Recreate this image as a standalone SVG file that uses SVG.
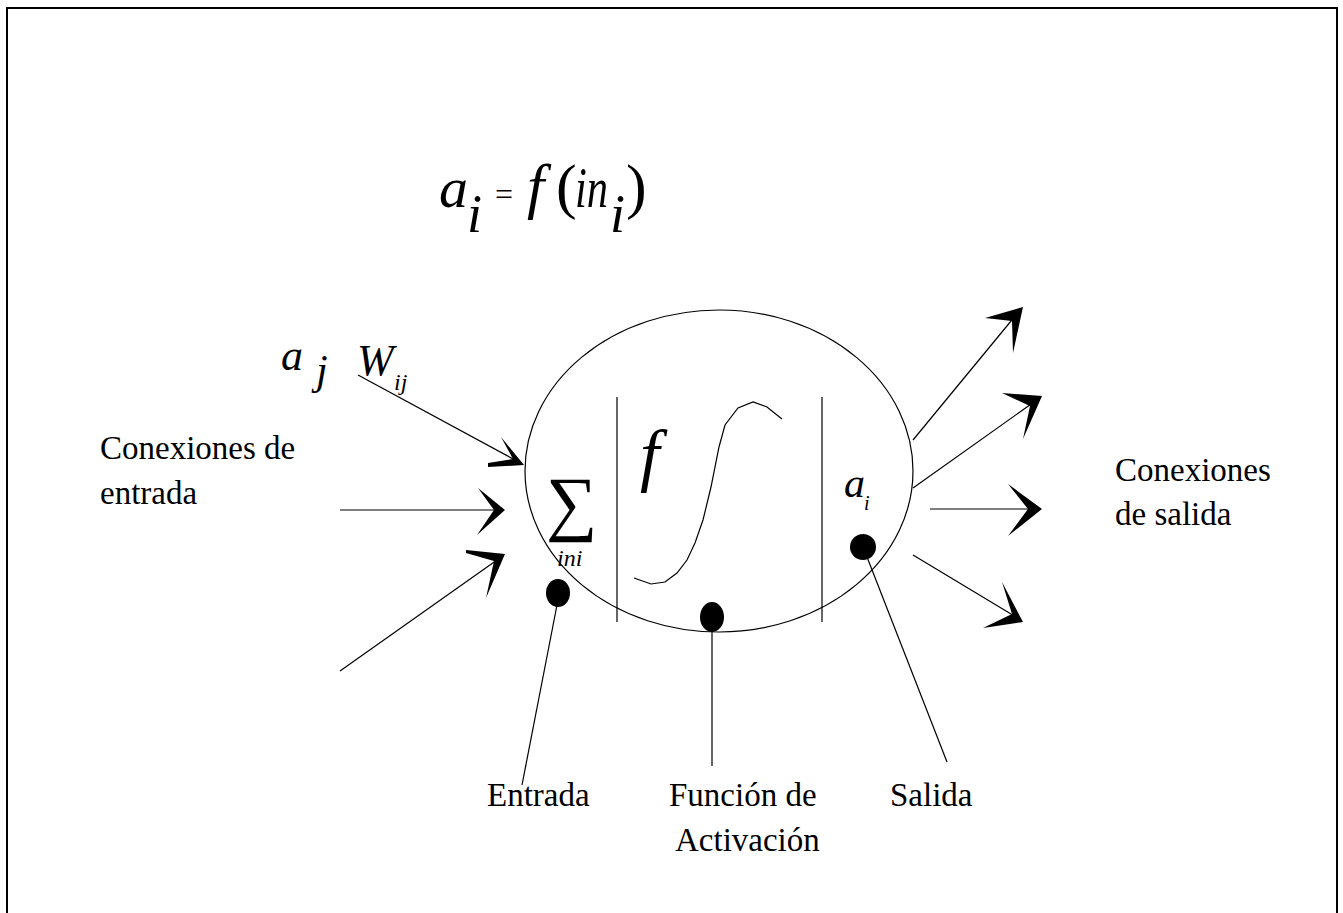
<svg xmlns="http://www.w3.org/2000/svg" width="1343" height="913" viewBox="0 0 1343 913">
<rect width="1343" height="913" fill="#fff"/>
<path d="M7,913 L7,8 L1337,8 L1337,913" fill="none" stroke="#000" stroke-width="2"/>
<g id="formula" fill="#000">
<text x="439" y="207" font-size="58" font-family="Liberation Serif" font-style="italic">a</text>
<text x="467" y="232" font-size="54" font-family="Liberation Serif" font-style="italic">i</text>
<text x="495" y="205" font-size="32" font-family="Liberation Serif">=</text>
<text x="527" y="207" font-size="62" font-family="Liberation Serif" font-style="italic">f</text>
<text x="556" y="207" font-size="62" font-family="Liberation Serif">(</text>
<text x="575" y="207" font-size="56" font-family="Liberation Serif" font-style="italic" textLength="33" lengthAdjust="spacingAndGlyphs">in</text>
<text x="610" y="232" font-size="54" font-family="Liberation Serif" font-style="italic">i</text>
<text x="626" y="207" font-size="62" font-family="Liberation Serif">)</text>
</g>
<g id="neuron" fill="none" stroke="#000" stroke-width="1.2">
<ellipse cx="719" cy="471" rx="194" ry="161"/>
<line x1="617" y1="397" x2="617" y2="622"/>
<line x1="822" y1="397" x2="822" y2="622"/>
<polyline points="634,578 651,584 665,582 677,573 687,560 695,543 703,520 711,487 719,447 725,425 738,408 753,402 767,407 782,419"/>
<text x="546" y="527" font-size="72" font-family="Liberation Serif" fill="#000" stroke="none">∑</text>
<text x="557" y="566" font-size="24" font-family="Liberation Serif" font-style="italic" fill="#000" stroke="none">ini</text>
<text x="640" y="478" font-size="70" font-family="Liberation Serif" font-style="italic" fill="#000" stroke="none">f</text>
<text x="844" y="497" font-size="42" font-family="Liberation Serif" font-style="italic" fill="#000" stroke="none">a</text>
<text x="864" y="510" font-size="20" font-family="Liberation Serif" font-style="italic" fill="#000" stroke="none">i</text>
</g>
<g id="labels" fill="#000">
<text x="281" y="370" font-size="44" font-family="Liberation Serif" font-style="italic">a</text>
<text x="316" y="384" font-size="42" font-family="Liberation Serif" font-style="italic">j</text>
<text x="357" y="375" font-size="44" font-family="Liberation Serif" font-style="italic">W</text>
<text x="394" y="390" font-size="24" font-family="Liberation Serif" font-style="italic">ij</text>
<text x="100" y="459" font-size="33" font-family="Liberation Serif">Conexiones de</text>
<text x="100" y="504" font-size="33" font-family="Liberation Serif">entrada</text>
<text x="1115" y="481" font-size="33" font-family="Liberation Serif">Conexiones</text>
<text x="1115" y="525" font-size="33" font-family="Liberation Serif">de salida</text>
</g>
<g id="entrada" fill="#000">
<ellipse cx="558" cy="593" rx="12" ry="14"/>
<text x="487" y="806" font-size="33" font-family="Liberation Serif">Entrada</text>
</g>
<g id="activacion" fill="#000">
<ellipse cx="712" cy="617" rx="12" ry="15"/>
<text x="669" y="806" font-size="33" font-family="Liberation Serif">Función de</text>
<text x="675" y="851" font-size="33" font-family="Liberation Serif">Activación</text>
</g>
<g id="salida" fill="#000">
<ellipse cx="863" cy="547" rx="13" ry="13"/>
<text x="890" y="806" font-size="33" font-family="Liberation Serif">Salida</text>
</g>
<g id="connectors" stroke="#000" stroke-width="1.2" fill="#000">
<line x1="358" y1="375" x2="515" y2="460"/>
<line x1="340" y1="510" x2="498" y2="510"/>
<line x1="340" y1="671" x2="497" y2="560"/>
<line x1="913" y1="440" x2="1016" y2="315"/>
<line x1="913" y1="488" x2="1034" y2="402"/>
<line x1="930" y1="509" x2="1036" y2="509"/>
<line x1="913" y1="555" x2="1016" y2="617"/>
<line x1="557" y1="605" x2="522" y2="785"/>
<line x1="712" y1="630" x2="712" y2="766"/>
<line x1="867" y1="557" x2="947" y2="762"/>
<g stroke="none">
<path d="M524,465 L501,437 L513,459 L488,463 L488,467 Z"/>
<path d="M505,510 L478,488 L494,510 L477,535 Z"/>
<path d="M505,554 L466,550 L466,553 L494,561 L486,598 Z"/>
<path d="M1023,307 L985,318 L1012,321 L1013,353 Z"/>
<path d="M1042,396 L1002,393 L1030,406 L1023,439 Z"/>
<path d="M1042,509 L1008,484 L1028,509 L1008,536 Z"/>
<path d="M1023,622 L1002,582 L1012,614 L983,628 Z"/>
</g>
</g>
</svg>
